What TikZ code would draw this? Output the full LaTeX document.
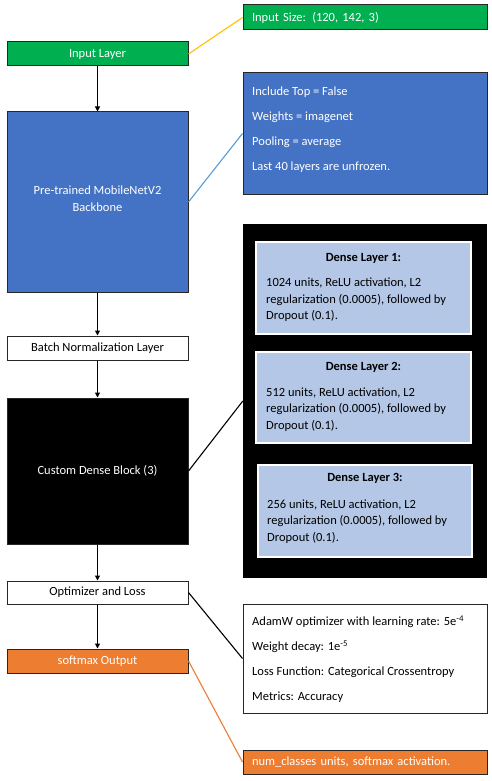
\documentclass[tikz,border=0pt]{standalone}
\usepackage{fontspec}
\setmainfont{Carlito}
\usetikzlibrary{arrows.meta}
\definecolor{cgreen}{HTML}{00B050}
\definecolor{cblue}{HTML}{4472C4}
\definecolor{corange}{HTML}{ED7D31}
\definecolor{clight}{HTML}{B4C7E7}
\definecolor{cyellow}{HTML}{FFC000}
\definecolor{cline}{HTML}{5B9BD5}
\begin{document}
\begin{tikzpicture}[x=1pt,y=-1pt,
  every node/.style={font=\fontsize{12.5}{15}\selectfont},
  lbox/.style={draw=black!85, line width=1pt, minimum width=181pt, inner sep=0pt, align=center},
  rbox/.style={draw=black!85, line width=1pt, minimum width=244pt, inner sep=0pt},
  sbox/.style={rbox, inner xsep=9pt, text width=226pt, align=left},
  dbox/.style={draw=white, line width=1.5pt, fill=clight, inner sep=0pt},
  flow/.style={-{Triangle[length=5pt,width=5pt]}, line width=1.1pt, black},
  link/.style={line width=1.1pt},
  txt/.style={inner sep=0pt, align=left, anchor=north west},
  dtxt/.style={txt, font=\fontsize{12.5}{16.5}\selectfont},
  ttl/.style={inner sep=0pt, font=\fontsize{12.5}{15}\selectfont\bfseries},
]
\useasboundingbox (0,0) rectangle (492,781);
\fill[white] (0,0) rectangle (492,781);

% left column
\node[lbox, fill=cgreen, text=white, minimum height=24pt] (input) at (97.5,54) {Input Layer};
\node[lbox, fill=cblue, minimum height=180pt] (backbone) at (97.5,202) {};
\node[inner sep=0pt, align=center, text=white, font=\fontsize{12.5}{17}\selectfont] (backbonetext) at (97.5,198.5) {Pre-trained MobileNetV2\\Backbone};
\node[lbox, fill=white, minimum height=24pt] (batch) at (97.5,348) {Batch Normalization Layer};
\node[lbox, fill=black, text=white, minimum height=146pt] (dense) at (97.5,471) {Custom Dense Block (3)};
\node[lbox, fill=white, minimum height=23pt] (optim) at (97.5,592.5) {Optimizer and Loss};
\node[lbox, fill=corange, text=white, minimum height=24pt] (soft) at (97.5,661) {softmax Output};

% right column
\node[sbox, fill=cgreen, text=white, minimum height=25pt] (insize) at (365,17.5) {Input Size: (120, 142, 3)};
\node[rbox, fill=cblue, minimum height=121pt] (binfo) at (365,133.5) {};
\node[txt, text=white, font=\fontsize{12.5}{25}\selectfont] (binfotext) at (252,86.5) {Include Top = False\\Weights = imagenet\\Pooling = average\\Last 40 layers are unfrozen.};

\node[fill=black, minimum width=244pt, minimum height=354pt, inner sep=0pt] (dblock) at (365,401) {};
\node[dbox, minimum width=215pt, minimum height=92pt] (d1) at (363.5,288) {};
\node[ttl] (d1title) at (363.5,258) {Dense Layer 1:};
\node[dtxt] (d1text) at (266,278) {1024 units, ReLU activation, L2\\regularization (0.0005), followed by\\Dropout (0.1).};
\node[dbox, minimum width=215pt, minimum height=91pt] (d2) at (363.5,397.5) {};
\node[ttl] (d2title) at (363.5,367) {Dense Layer 2:};
\node[dtxt] (d2text) at (266,387.5) {512 units, ReLU activation, L2\\regularization (0.0005), followed by\\Dropout (0.1).};
\node[dbox, minimum width=214pt, minimum height=92pt] (d3) at (365,511) {};
\node[ttl] (d3title) at (365,478.5) {Dense Layer 3:};
\node[dtxt] (d3text) at (267,499.5) {256 units, ReLU activation, L2\\regularization (0.0005), followed by\\Dropout (0.1).};

\node[rbox, fill=white, minimum height=109pt] (oinfo) at (365,658.5) {};
\node[txt, font=\fontsize{12.5}{25}\selectfont] (oinfotext) at (252,615.5) {AdamW optimizer with learning rate: 5e\textsuperscript{-4}\\Weight decay: 1e\textsuperscript{-5}\\Loss Function: Categorical Crossentropy\\Metrics: Accuracy};
\node[sbox, fill=corange, text=white, minimum height=24pt] (numc) at (365,762) {num\_classes units, softmax activation.};

% connectors
\draw[link, cyellow] (input.east) -- (insize.west);
\draw[link, cline] (backbone.east) -- (binfo.west);
\draw[link, black] (dense.east) -- (dblock.west);
\draw[link, black] (optim.east) -- (oinfo.west);
\draw[link, corange] (soft.east) -- (numc.west);

\draw[flow] (input) -- (backbone);
\draw[flow] (backbone) -- (batch);
\draw[flow] (batch) -- (dense);
\draw[flow] (dense) -- (optim);
\draw[flow] (optim) -- (soft);
\end{tikzpicture}
\end{document}
